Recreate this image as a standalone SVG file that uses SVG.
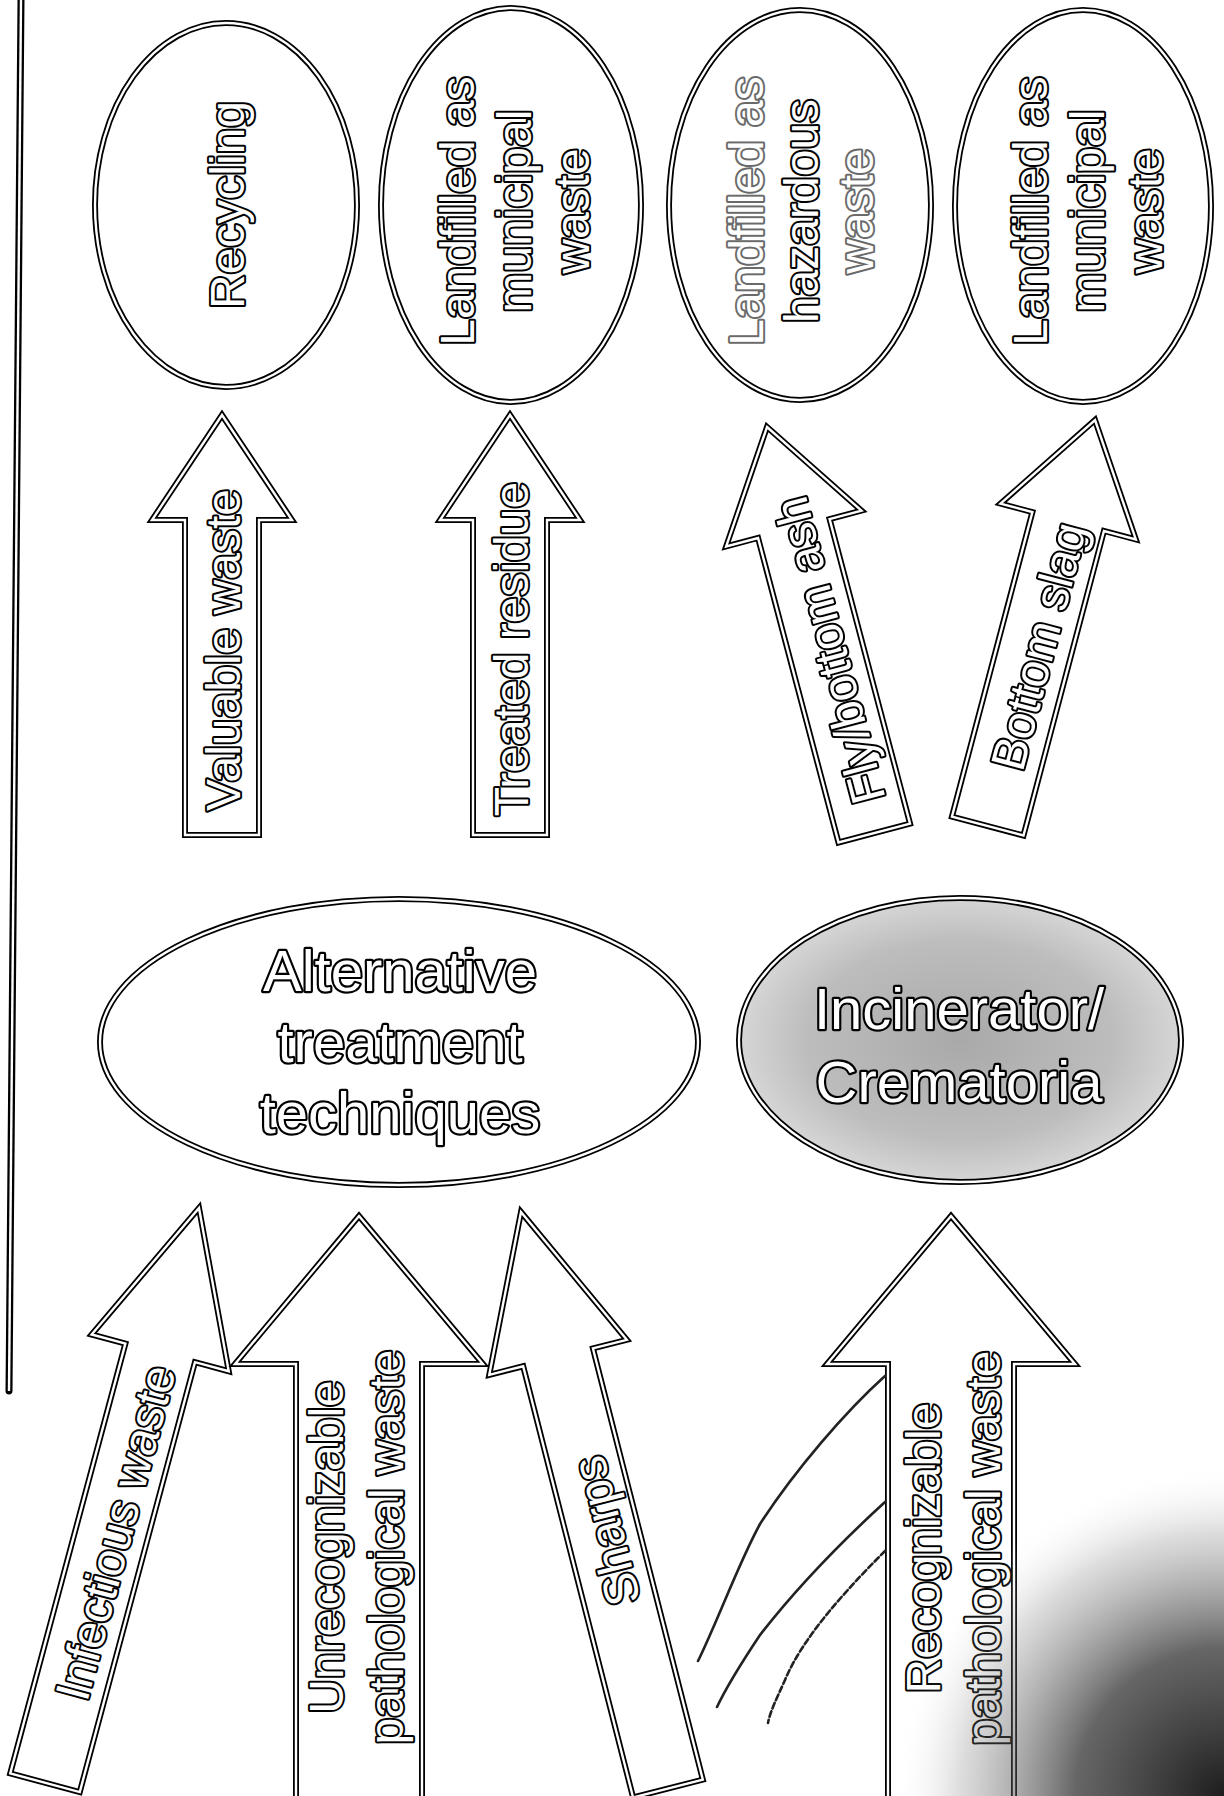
<svg xmlns="http://www.w3.org/2000/svg" xmlns:xlink="http://www.w3.org/1999/xlink" width="1224" height="1796" viewBox="0 0 1224 1796">
<style>
.o{fill:#fff;stroke:#000;stroke-width:6;stroke-linejoin:miter}
.i{fill:none;stroke:#fff;stroke-width:2.4;stroke-linejoin:miter}
.t{font-family:"Liberation Sans",Arial,sans-serif;font-size:48px;fill:#fff;stroke:#000;stroke-width:4;paint-order:stroke;stroke-linejoin:round;text-anchor:middle}
.tl{font-family:"Liberation Sans",Arial,sans-serif;font-size:58px;fill:#fff;stroke:#000;stroke-width:4.4;paint-order:stroke;stroke-linejoin:round;text-anchor:middle}
.faded{stroke:#6a6a6a}
.mark{fill:none;stroke:#222;stroke-width:2.6;stroke-linecap:round}
</style>
<defs>
<path id="arrS" d="M0,0 L70,105 L37,105 L37,420 L-37,420 L-37,105 L-70,105 Z"/>
<path id="arrM" d="M0,0 L71,150 L36,150 L36,595 L-36,595 L-36,150 L-71,150 Z"/>
<path id="arrL" d="M0,0 L124,148 L63,148 L63,620 L-63,620 L-63,148 L-124,148 Z"/>
<radialGradient id="greyfill" cx="0.5" cy="0.5" r="0.5">
<stop offset="0" stop-color="#a9a9a9"/>
<stop offset="0.7" stop-color="#bdbdbd"/>
<stop offset="1" stop-color="#d6d6d6"/>
</radialGradient>
<radialGradient id="dark" cx="1224" cy="1796" r="330" gradientUnits="userSpaceOnUse">
<stop offset="0" stop-color="#111" stop-opacity="0.95"/>
<stop offset="0.45" stop-color="#333" stop-opacity="0.75"/>
<stop offset="0.8" stop-color="#777" stop-opacity="0.25"/>
<stop offset="1" stop-color="#fff" stop-opacity="0"/>
</radialGradient>
</defs>
<rect width="1224" height="1796" fill="#fff"/>

<g id="margin-line">
<path d="M21,0 L9,1391" fill="none" stroke="#000" stroke-width="7" stroke-linecap="round"/>
<path d="M21,0 L9,1391" fill="none" stroke="#fff" stroke-width="2.4"/>
</g>

<g id="node-recycling">
<ellipse class="o" cx="226" cy="205" rx="131" ry="182"/>
<ellipse class="i" cx="226" cy="205" rx="131" ry="182"/>
<text class="t" transform="translate(244,205) rotate(-90)">Recycling</text>
</g>

<g id="node-landfill-municipal-1">
<ellipse class="o" cx="511" cy="205" rx="130" ry="197"/>
<ellipse class="i" cx="511" cy="205" rx="130" ry="197"/>
<text class="t" transform="translate(474,211) rotate(-90)"><tspan x="0" y="0">Landfilled as</tspan><tspan x="0" y="57">municipal</tspan><tspan x="0" y="115">waste</tspan></text>
</g>

<g id="node-landfill-hazardous">
<ellipse class="o" cx="800" cy="205" rx="131" ry="195"/>
<ellipse class="i" cx="800" cy="205" rx="131" ry="195"/>
<text class="t" transform="translate(763,211) rotate(-90)"><tspan x="0" y="0" class="faded">Landfilled as</tspan><tspan x="0" y="55">hazardous</tspan><tspan x="0" y="110" class="faded">waste</tspan></text>
</g>

<g id="node-landfill-municipal-2">
<ellipse class="o" cx="1083" cy="206" rx="128" ry="196"/>
<ellipse class="i" cx="1083" cy="206" rx="128" ry="196"/>
<text class="t" transform="translate(1047,211) rotate(-90)"><tspan x="0" y="0">Landfilled as</tspan><tspan x="0" y="57">municipal</tspan><tspan x="0" y="115">waste</tspan></text>
</g>

<g id="node-alternative">
<ellipse class="o" cx="399" cy="1042" rx="299" ry="143"/>
<ellipse class="i" cx="399" cy="1042" rx="299" ry="143"/>
<text class="tl"><tspan x="400" y="991">Alternative</tspan><tspan x="400" y="1062">treatment</tspan><tspan x="400" y="1133">techniques</tspan></text>
</g>

<g id="node-incinerator">
<ellipse cx="960" cy="1040" rx="221" ry="142" fill="url(#greyfill)" stroke="#000" stroke-width="6"/>
<ellipse class="i" cx="960" cy="1040" rx="221" ry="142"/>
<text class="tl"><tspan x="959" y="1029">Incinerator/</tspan><tspan x="959" y="1102">Crematoria</tspan></text>
</g>

<g id="connectors">
<g id="arrow-valuable-waste" transform="translate(222,415)">
<use xlink:href="#arrS" class="o"/><use xlink:href="#arrS" class="i"/>
<text class="t" transform="translate(18,235) rotate(-90)">Valuable waste</text>
</g>
<g id="arrow-treated-residue" transform="translate(510,415)">
<use xlink:href="#arrS" class="o"/><use xlink:href="#arrS" class="i"/>
<text class="t" transform="translate(18,234) rotate(-90)">Treated residue</text>
</g>
<g id="arrow-fly-bottom-ash" transform="translate(767,427) rotate(-14.8)">
<use xlink:href="#arrS" class="o"/><use xlink:href="#arrS" class="i"/>
<text class="t" transform="translate(20,232) rotate(-90)">Fly/bottom ash</text>
</g>
<g id="arrow-bottom-slag" transform="translate(1095,420) rotate(14.8)">
<use xlink:href="#arrS" class="o"/><use xlink:href="#arrS" class="i"/>
<text class="t" transform="translate(20,233) rotate(-90)">Bottom slag</text>
</g>
<g id="arrow-infectious" transform="translate(199,1208) rotate(15)">
<use xlink:href="#arrM" class="o"/><use xlink:href="#arrM" class="i"/>
<text class="t" transform="translate(20,335) rotate(-90)">Infectious waste</text>
</g>
<g id="arrow-unrecognizable" transform="translate(359,1216)">
<use xlink:href="#arrL" class="o"/><use xlink:href="#arrL" class="i"/>
<text class="t" transform="translate(-16,331) rotate(-90)"><tspan x="0" y="0">Unrecognizable</tspan><tspan x="0" y="60">pathological waste</tspan></text>
</g>
<g id="arrow-sharps" transform="translate(521,1212) rotate(-14.3)">
<use xlink:href="#arrM" class="o"/><use xlink:href="#arrM" class="i"/>
<text class="t" transform="translate(20,330) rotate(-90)">Sharps</text>
</g>
<g id="arrow-recognizable" transform="translate(951,1216)">
<use xlink:href="#arrL" class="o"/><use xlink:href="#arrL" class="i"/>
<text class="t" transform="translate(-11,332) rotate(-90)"><tspan x="0" y="0">Recognizable</tspan><tspan x="0" y="60">pathological waste</tspan></text>
</g>
</g>

<g id="pen-marks">
<path class="mark" d="M885,1376 C846,1411 795,1470 760,1524 C740,1560 718,1620 698,1661"/>
<path class="mark" d="M885,1502 C838,1545 795,1590 760,1635 C740,1665 725,1690 717,1707"/>
<path class="mark" d="M885,1551 C846,1590 803,1637 785,1680 C776,1700 770,1712 768,1723" stroke-dasharray="6 3"/>
</g>

<rect id="scan-shadow" x="880" y="1460" width="344" height="336" fill="url(#dark)"/>
</svg>
